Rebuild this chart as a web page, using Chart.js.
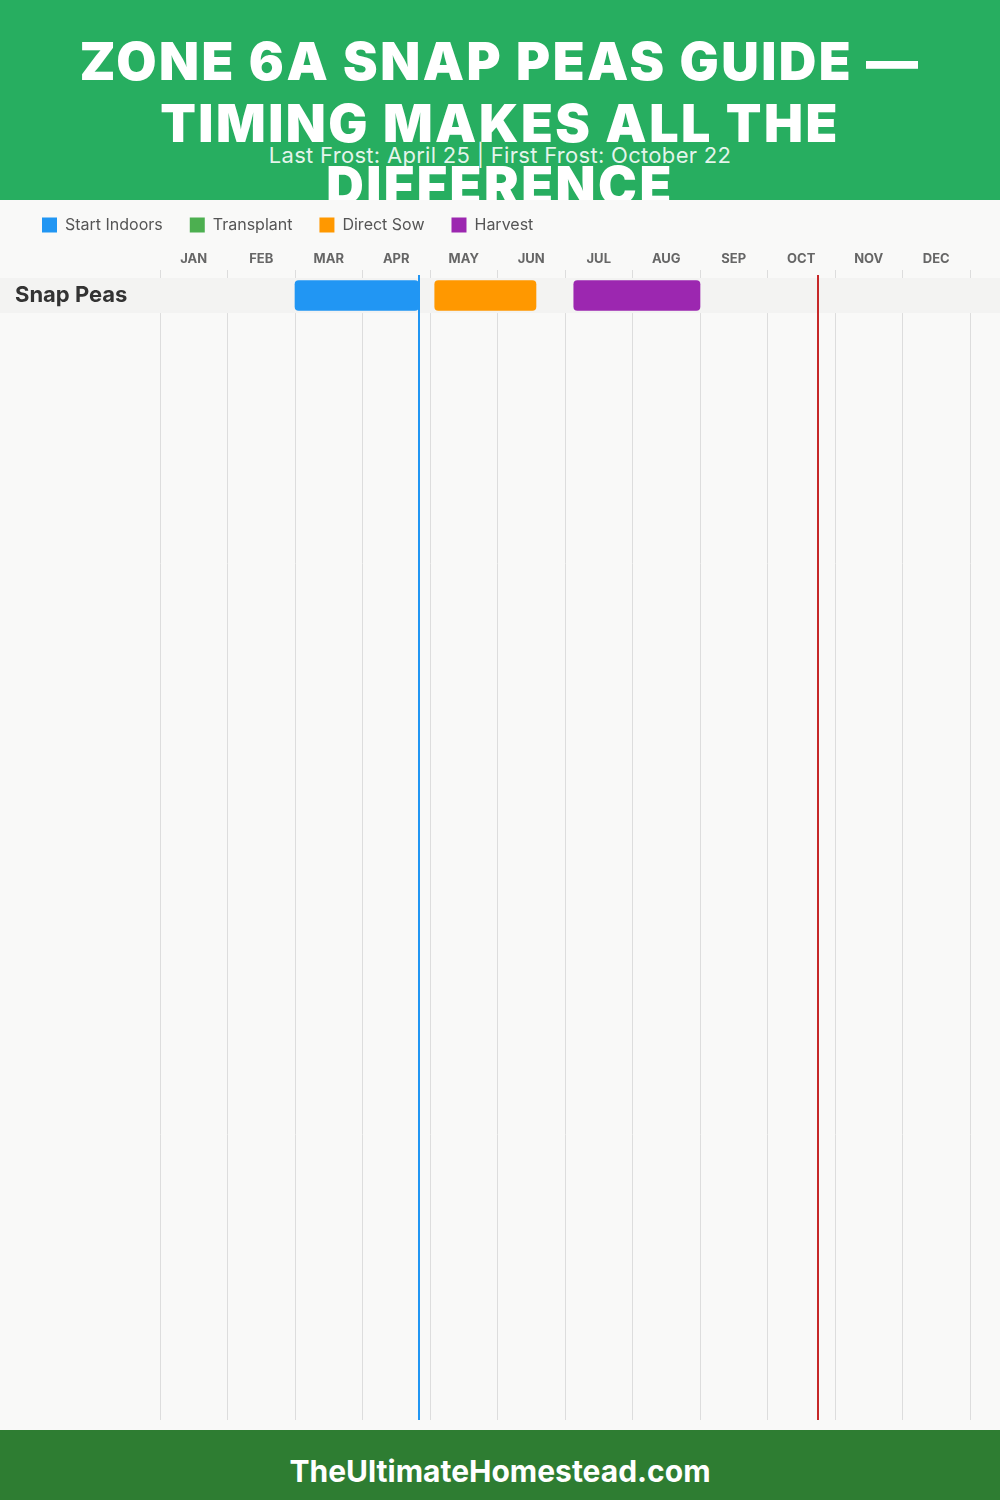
<!DOCTYPE html>
<html>
<head>
<meta charset="utf-8">
<script src="https://cdn.jsdelivr.net/npm/chart.js@4.4.1/dist/chart.umd.min.js"></script>
<style>
  html, body { margin: 0; padding: 0; }
  body { width: 1000px; height: 1500px; background: #f9f9f8; font-family: Inter, "Open Sans", sans-serif; overflow: hidden; }
  #header { position: relative; height: 200px; background: #27ae60; overflow: hidden; }
  #title { position: absolute; left: 0; right: 0; top: 31px; margin: 0; text-align: center; color: #fff; font-weight: 900; font-size: 52px; letter-spacing: 2.5px; line-height: 62px; }
  #subtitle { position: absolute; left: 0; right: 0; top: 143px; text-align: center; color: rgba(255,255,255,0.88); font-size: 22px; letter-spacing: 0.3px; line-height: 24px; }
  #chartBox { position: relative; height: 1230px; background: #f9f9f8; }
  #footer { height: 70px; background: #2e7d32; color: #fff; text-align: center; font-weight: 700; font-size: 30px; line-height: 82px; }
</style>
</head>
<body>
<div id="header">
  <h1 id="title">ZONE 6A SNAP PEAS GUIDE —<br>TIMING MAKES ALL THE<br>DIFFERENCE</h1>
  <div id="subtitle">Last Frost: April 25 | First Frost: October 22</div>
</div>
<div id="chartBox"><canvas id="chart" width="1000" height="1230"></canvas></div>
<div id="footer">TheUltimateHomestead.com</div>

<script>
  const months = ["JAN", "FEB", "MAR", "APR", "MAY", "JUN", "JUL", "AUG", "SEP", "OCT", "NOV", "DEC"];
  const crops = ["Snap Peas"];

  // ranges in months from Jan 1 (0) to Dec 31 (12), one entry per crop
  const startIndoors = [[2.0, 3.83]];
  const transplant = [];
  const directSow = [[4.07, 5.57]];
  const harvest = [[6.13, 8.0]];

  const lastFrost = 3.83;   // April 25
  const firstFrost = 9.75;  // October 22

  const seriesNames = ["Start Indoors", "Transplant", "Direct Sow", "Harvest"];
  const seriesColors = ["#2196f3", "#4caf50", "#ff9800", "#9c27b0"];
  const seriesData = [startIndoors, transplant, directSow, harvest];

  const rowBands = {
    id: "rowBands",
    beforeDatasetsDraw(chart) {
      const { ctx, scales: { y } } = chart;
      ctx.save();
      ctx.fillStyle = "#f3f3f2";
      crops.forEach((c, i) => {
        const top = y.getPixelForValue(i);
        const bottom = y.getPixelForValue(i + 1);
        ctx.fillRect(0, top, chart.width, bottom - top);
      });
      ctx.restore();
    }
  };

  const frostLines = {
    id: "frostLines",
    afterDatasetsDraw(chart) {
      const { ctx, chartArea, scales: { x } } = chart;
      [[lastFrost, "#2196f3"], [firstFrost, "#c62828"]].forEach(([v, color]) => {
        const px = Math.round(x.getPixelForValue(v));
        ctx.save();
        ctx.strokeStyle = color;
        ctx.lineWidth = 2;
        ctx.beginPath();
        ctx.moveTo(px, chartArea.top - 3);
        ctx.lineTo(px, chartArea.bottom);
        ctx.stroke();
        ctx.restore();
      });
    }
  };

  new Chart(document.getElementById("chart"), {
    type: "bar",
    data: {
      datasets: seriesNames.map((name, k) => ({
        label: name,
        data: seriesData[k].map((r, i) => ({ x: r, y: i + 0.5 })),
        xAxisID: "x",
        yAxisID: "y",
        backgroundColor: seriesColors[k],
        borderRadius: 4,
        borderSkipped: false,
        barThickness: 30,
        grouped: false
      }))
    },
    options: {
      indexAxis: "y",
      responsive: false,
      animation: false,
      devicePixelRatio: 1,
      layout: { padding: { left: 15, right: 30, top: -10, bottom: 10 } },
      plugins: {
        tooltip: { enabled: false },
        legend: {
          position: "top",
          align: "start",
          labels: {
            boxWidth: 15,
            boxHeight: 15,
            padding: 27,
            color: "#555",
            font: { family: "Inter", size: 16 }
          }
        }
      },
      scales: {
        x: {
          type: "linear",
          position: "top",
          min: 0,
          max: 12,
          weight: 1,
          ticks: { display: false, stepSize: 1 },
          grid: { color: "#dddddd", lineWidth: 1, drawTicks: true, tickLength: 8 },
          border: { display: false }
        },
        xMonths: {
          axis: "x",
          type: "category",
          labels: months,
          position: "top",
          offset: true,
          weight: 2,
          grid: { display: false, drawTicks: false },
          border: { display: false },
          ticks: { color: "#666", padding: 3, font: { family: "Inter", size: 13, weight: "bold" } },
          afterFit: s => { s.height = 27; }
        },
        y: {
          type: "linear",
          reverse: true,
          min: 0,
          max: 32.6,
          offset: false,
          grid: { display: false },
          border: { display: false },
          afterBuildTicks: s => { s.ticks = crops.map((c, i) => ({ value: i + 0.5 })); },
          afterFit: s => { s.width = 145; s.paddingTop = 0; s.paddingBottom = 0; },
          ticks: {
            z: 1,
            crossAlign: "far",
            color: "#333",
            font: { family: "Inter", size: 22, weight: "bold" },
            callback: (v, i) => crops[i]
          }
        }
      }
    },
    plugins: [rowBands, frostLines]
  });
</script>
</body>
</html>
